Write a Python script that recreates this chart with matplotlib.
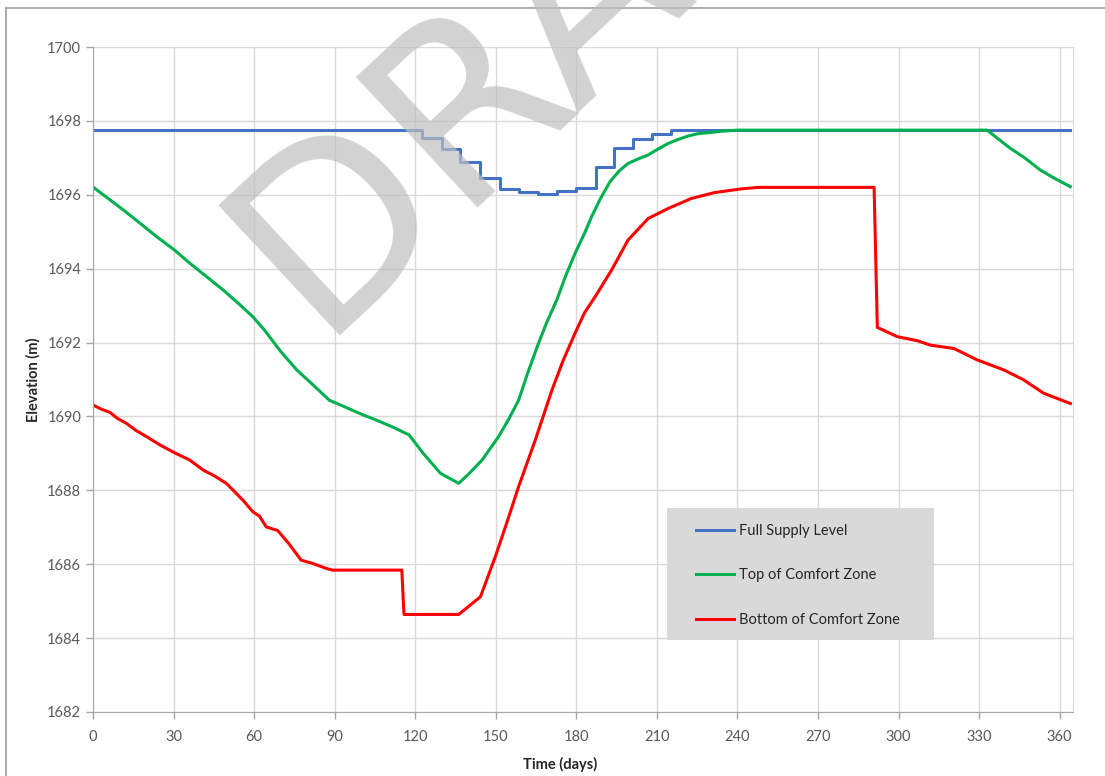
"""Reservoir comfort zone chart (elevation vs day of year)."""

import matplotlib
matplotlib.use("Agg")
import matplotlib.pyplot as plt
from matplotlib.lines import Line2D
from matplotlib.patches import Rectangle

plt.rcParams["font.family"] = ["Lato", "DejaVu Sans"]

# Full supply level (stepped weekly)
fsl_days = [0, 122.5, 129.8, 136.8, 144.3, 151.4, 158.8, 165.7, 172.7,
            179.8, 187.2, 194.1, 201.2, 208, 215.2, 364]
fsl_elev = [1697.75, 1697.53, 1697.23, 1696.90, 1696.45, 1696.15, 1696.08,
            1696.02, 1696.10, 1696.19, 1696.74, 1697.28, 1697.50, 1697.64,
            1697.75, 1697.75]

# Top of comfort zone
top_days = [0, 6, 12, 18, 24, 30.4, 36, 42, 48, 54, 59.5, 63.8, 70, 76, 82,
            88, 95, 100, 106.9, 112, 117.7, 123, 129.4, 136.2, 140, 144.9,
            151, 155, 158.5, 162, 165.9, 169, 172.7, 176, 179.5, 183, 185.7,
            189, 192.5, 196, 199.3, 203, 206.8, 210, 214.2, 218, 221.6, 225,
            229, 234, 240, 333, 337, 341.6, 347, 352.8, 358, 364]
top_elev = [1696.21, 1695.88, 1695.55, 1695.20, 1694.85, 1694.50, 1694.15,
            1693.80, 1693.45, 1693.07, 1692.70, 1692.34, 1691.75, 1691.25,
            1690.85, 1690.44, 1690.22, 1690.06, 1689.86, 1689.70, 1689.50,
            1689.00, 1688.46, 1688.19, 1688.45, 1688.82, 1689.45, 1689.95,
            1690.44, 1691.20, 1691.98, 1692.55, 1693.15, 1693.80, 1694.41,
            1694.95, 1695.41, 1695.90, 1696.35, 1696.65, 1696.85, 1696.97,
            1697.08, 1697.22, 1697.39, 1697.50, 1697.59, 1697.65, 1697.68,
            1697.72, 1697.75, 1697.75, 1697.52, 1697.26, 1697.00, 1696.67,
            1696.45, 1696.22]

# Bottom of comfort zone
bot_days = [0, 3, 6.3, 9, 12.5, 16, 20, 24.9, 30, 36, 41, 45, 49.6, 52.1, 56,
            59.5, 62, 64.5, 68.8, 73, 77.5, 81.8, 86.7, 89.2, 115, 115.8,
            136.2, 144.3, 149.8, 154, 158.5, 164.7, 170.9, 175, 179.5, 183,
            187, 193.1, 199.3, 206.8, 214.2, 222.8, 231.5, 241.4, 247.6,
            290.9, 292.1, 299.5, 307, 311.9, 320.6, 329.3, 339.2, 346.6, 354,
            364]
bot_elev = [1690.31, 1690.20, 1690.11, 1689.95, 1689.81, 1689.62, 1689.45,
            1689.23, 1689.03, 1688.82, 1688.55, 1688.40, 1688.19, 1688.01,
            1687.72, 1687.42, 1687.30, 1687.01, 1686.91, 1686.55, 1686.11,
            1686.02, 1685.89, 1685.84, 1685.84, 1684.64, 1684.64, 1685.12,
            1686.20, 1687.10, 1688.10, 1689.36, 1690.71, 1691.50, 1692.25,
            1692.80, 1693.24, 1693.96, 1694.78, 1695.36, 1695.63, 1695.90,
            1696.06, 1696.16, 1696.20, 1696.20, 1692.41, 1692.16, 1692.05,
            1691.93, 1691.84, 1691.53, 1691.26, 1690.99, 1690.63, 1690.35]

x_ticks = list(range(0, 361, 30))
y_ticks = list(range(1682, 1701, 2))

fig = plt.figure(figsize=(11.05, 7.76), dpi=100)
ax = fig.add_axes([0.0842, 0.0825, 0.8869, 0.8569])

ax.step(fsl_days, fsl_elev, where="post", color="#4472C4", lw=2.2,
        label="Full Supply Level")
ax.plot(top_days, top_elev, color="#00B050", lw=2.2, label="Top of Comfort Zone")
ax.plot(bot_days, bot_elev, color="#FF0000", lw=2.2, label="Bottom of Comfort Zone")

ax.set_xlim(0, 365)
ax.set_ylim(1682, 1700)
ax.set_xticks(x_ticks)
ax.set_yticks(y_ticks)
ax.grid(True, color="#d9d9d9", lw=1)
ax.set_axisbelow(True)

ax.spines["top"].set_visible(False)
ax.spines["right"].set_color("#d9d9d9")
ax.spines["left"].set_color("#a6a6a6")
ax.spines["bottom"].set_color("#a6a6a6")
ax.tick_params(axis="both", colors="#a6a6a6", labelcolor="#595959",
               labelsize=10.5, length=5, width=1)
ax.tick_params(axis="x", pad=8)

ax.set_xlabel("Time (days)", fontsize=10.5, fontweight="bold", color="#262626")
ax.set_ylabel("Elevation (m)", fontsize=10.5, fontweight="bold", color="#262626")
ax.xaxis.set_label_coords(0.4765, -0.068)
ax.yaxis.set_label_coords(-0.054, 0.5)

# legend box
ax.add_patch(Rectangle((0.5857, 0.1083), 0.2724, 0.1985, transform=ax.transAxes,
                       facecolor="#d9d9d9", edgecolor="none", zorder=3))
leg = ax.legend(loc="upper left", bbox_to_anchor=(0.6155, 0.283),
                frameon=False, fontsize=10.5, handlelength=2.6,
                handletextpad=0.3, labelspacing=2.1, borderpad=0,
                borderaxespad=0)
leg.set_zorder(4)
for txt in leg.get_texts():
    txt.set_color("#262626")

# outer frame of the original image
fig.add_artist(Line2D([0.0054, 1.0], [0.9897, 0.9897], color="#a0a0a0", lw=1.2))
fig.add_artist(Line2D([0.0054, 0.0054], [0.0, 0.9897], color="#a0a0a0", lw=1.2))

# watermark
fig.text(0.287, 0.567, "DRAFT", fontsize=176, color="#bfbfbf", alpha=0.7,
         rotation=43, rotation_mode="anchor", ha="left", va="baseline",
         family="DejaVu Sans", zorder=10)

fig.savefig("out.png", dpi=100)
